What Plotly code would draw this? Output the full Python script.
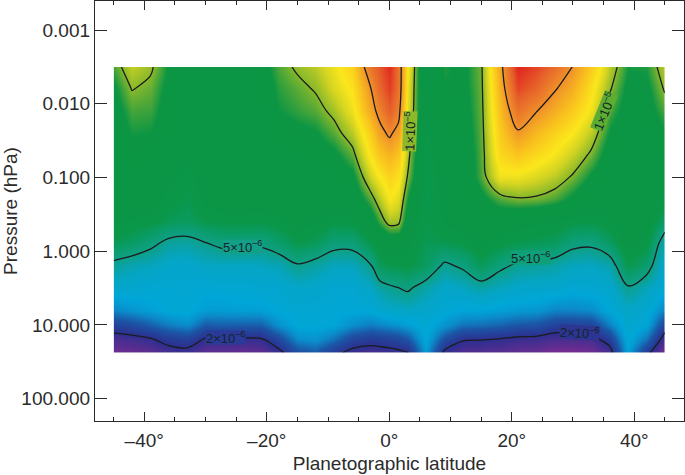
import plotly.graph_objects as go
import numpy as np

latitudes = [-45, -42, -39, -36, -33, -30, -27, -24, -21, -18, -15, -12, -9, -6, -3, -1.5, 0,
             1.5, 3, 6, 9, 12, 15, 18, 21, 24, 27, 30, 33, 36, 39, 42, 45]
pressures = [0.00324, 0.0063, 0.0126, 0.0251, 0.0501, 0.1, 0.2, 0.398, 0.794, 1.585, 3.16, 6.31, 10, 15.85, 24]

# mixing ratio in units of 1e-6, one list per latitude, from the top of the map down
c_m45 = [9.2, 8.4, 8.0, 7.8, 7.6, 7.5, 7.5, 7.0, 6.2, 4.7, 4.0, 3.1, 2.3, 1.8, 1.55]
c_m42 = [11.2, 10.1, 9.2, 8.7, 8.2, 7.7, 7.5, 6.8, 5.9, 4.4, 3.95, 3.3, 2.45, 1.85, 1.6]
c_m39 = [10.3, 9.6, 9.1, 8.6, 8.1, 7.6, 7.4, 6.6, 5.3, 4.25, 3.8, 3.5, 2.7, 1.95, 1.65]
c_m36 = [8.5, 8.2, 8.0, 7.8, 7.4, 7.0, 6.6, 6.2, 4.7, 4.0, 3.8, 3.7, 3.0, 2.2, 1.8]
c_m33 = [7.6, 7.5, 7.5, 7.4, 7.0, 6.6, 6.3, 6.0, 4.6, 4.0, 3.8, 3.75, 3.2, 2.3, 1.85]
c_m30 = [7.6, 7.6, 7.5, 7.5, 7.4, 7.3, 7.1, 6.4, 4.95, 4.15, 3.75, 3.45, 2.65, 1.95, 1.65]
c_m27 = [7.7, 7.6, 7.5, 7.5, 7.5, 7.4, 7.4, 6.55, 5.3, 4.2, 3.8, 3.45, 2.7, 1.95, 1.65]
c_m24 = [7.8, 7.6, 7.5, 7.5, 7.5, 7.5, 7.4, 6.55, 5.3, 4.2, 3.8, 3.5, 2.7, 1.95, 1.6]
c_m21 = [8.0, 7.8, 7.6, 7.5, 7.5, 7.5, 7.4, 6.5, 5.2, 4.2, 3.85, 3.5, 2.7, 1.95, 1.65]
c_m18 = [9.3, 8.9, 8.6, 8.0, 7.6, 7.5, 7.5, 6.7, 5.7, 4.35, 3.9, 3.7, 3.25, 2.4, 1.87]
c_m15 = [10.3, 9.5, 9.0, 8.3, 7.8, 7.5, 7.6, 7.2, 6.4, 4.9, 4.1, 3.8, 3.7, 3.2, 2.45]
c_m12 = [11.0, 10.2, 9.4, 8.5, 7.9, 7.6, 7.5, 7.0, 6.1, 4.6, 4.0, 3.8, 3.7, 3.3, 2.6]
c_m9 = [12.5, 11.8, 10.5, 9.4, 8.3, 7.7, 7.5, 6.6, 5.4, 4.25, 3.85, 3.7, 3.6, 2.9, 2.15]
c_m6 = [14.5, 13.5, 12.5, 11.0, 9.5, 8.3, 7.6, 6.7, 5.4, 4.25, 3.85, 3.7, 3.2, 2.35, 1.85]
c_m3 = [24, 20, 18, 15, 13.5, 11.5, 9.4, 7.8, 6.4, 4.95, 4.15, 3.7, 3.0, 2.2, 1.8]
c_m1h = [28, 26, 22, 18.5, 15.5, 13, 11, 9.2, 7.0, 6.1, 4.6, 3.9, 3.1, 2.25, 1.82]
c_0 = [33, 31, 27, 21, 17, 14.5, 13, 10.7, 7.5, 6.3, 4.85, 4.1, 3.2, 2.3, 1.85]
c_p1h = [24, 24, 22, 18.5, 15.5, 13.5, 12, 10.5, 7.5, 6.4, 5.0, 4.15, 3.3, 2.4, 1.9]
c_p3 = [13, 12.5, 12, 11.2, 10.6, 9.9, 8.6, 7.6, 7.0, 6.5, 5.2, 4.2, 3.45, 2.6, 1.95]
c_p6 = [6.5, 6.6, 6.8, 6.6, 6.4, 6.3, 6.3, 6.4, 6.2, 6.0, 4.55, 4.0, 3.8, 3.7, 3.4]
c_p9 = [8.8, 8.6, 8.3, 8.0, 7.6, 7.3, 7.0, 6.9, 6.3, 4.8, 4.05, 3.75, 3.3, 2.5, 1.9]
c_p12 = [8.3, 8.2, 8.0, 7.8, 7.6, 7.5, 7.4, 7.3, 6.5, 5.2, 4.2, 3.6, 2.9, 2.05, 1.72]
c_p15 = [9.7, 9.6, 9.5, 9.4, 9.3, 9.2, 8.2, 7.5, 7.0, 6.1, 4.6, 3.6, 2.85, 2.02, 1.72]
c_p18 = [18, 17, 16, 15, 14, 12.5, 9.35, 7.5, 6.6, 5.3, 4.25, 3.5, 2.75, 1.98, 1.68]
c_p21 = [34, 30, 24, 19.5, 15.5, 12.5, 9.85, 7.2, 6.3, 4.8, 4.05, 3.4, 2.6, 1.9, 1.62]
c_p24 = [30, 26, 20.3, 16.5, 14, 11.8, 9.75, 7.0, 6.2, 4.7, 4.0, 3.35, 2.55, 1.88, 1.6]
c_p27 = [25, 20.5, 17.5, 14.5, 12.8, 11, 9.25, 6.9, 6.0, 4.55, 4.0, 3.1, 2.3, 1.8, 1.5]
c_p30 = [19.8, 17.5, 15, 13, 11.3, 9.8, 8.3, 6.6, 5.3, 4.25, 3.8, 3.1, 2.3, 1.8, 1.5]
c_p33 = [15, 13.5, 12.5, 11, 9.7, 8.4, 7.4, 6.5, 5.2, 4.2, 3.85, 3.2, 2.35, 1.82, 1.55]
c_p36 = [11, 10.2, 9.3, 8.5, 7.8, 7.5, 7.5, 6.85, 5.9, 4.45, 3.95, 3.7, 3.05, 2.25, 1.8]
c_p39 = [8.7, 8.3, 8.0, 7.7, 7.5, 7.4, 7.4, 7.5, 7.2, 6.35, 4.9, 4.1, 3.95, 3.8, 3.5]
c_p42 = [8.8, 8.3, 8.0, 7.7, 7.5, 7.4, 7.3, 7.3, 6.7, 5.6, 4.3, 3.9, 3.6, 2.9, 2.15]
c_p45 = [11, 10.2, 9.3, 8.5, 7.9, 7.5, 6.8, 5.75, 4.35, 3.9, 3.75, 3.05, 2.3, 1.78, 1.5]

columns = [c_m45, c_m42, c_m39, c_m36, c_m33, c_m30, c_m27, c_m24, c_m21, c_m18, c_m15,
           c_m12, c_m9, c_m6, c_m3, c_m1h, c_0, c_p1h, c_p3, c_p6, c_p9, c_p12, c_p15, c_p18, c_p21,
           c_p24, c_p27, c_p30, c_p33, c_p36, c_p39, c_p42, c_p45]

contour_levels = [2, 5, 10, 20]
x_ticks = [-40, -20, 0, 20, 40]
x_labels = ["–40°", "–20°", "0°", "20°", "40°"]
y_ticks = [0.001, 0.01, 0.1, 1, 10, 100]
y_labels = ["0.001", "0.010", "0.100", "1.000", "10.000", "100.000"]

z = np.log10(np.array(columns)).T.tolist()

stops = [(1.5, "#7a2c90"), (2.0, "#2c2f90"), (2.6, "#1c55a6"), (3.2, "#0a8fcc"), (3.6, "#00a6d8"),
         (4.2, "#05a5c4"), (5.0, "#0fa088"), (5.8, "#0a9c68"), (6.5, "#0a9748"), (7.2, "#0a9645"), (8.6, "#0c9644"),
         (9.3, "#4da738"), (10.0, "#86b82c"), (11.5, "#d3d422"), (13.0, "#fbe71c"), (16.0, "#f9c01e"),
         (20.0, "#f0932a"), (27.0, "#e6602a"), (34.0, "#e1251f")]
lo, hi = np.log10(stops[0][0]), np.log10(stops[-1][0])
colorscale = [[(np.log10(v) - lo) / (hi - lo), c] for v, c in stops]

W, H = 685, 475
L, R, T, B = 94.5, 684, 1, 421.5
X0 = (L - 389) / 6.13
X1 = (R - 389) / 6.13
Y0 = (B - 251.5) / 73.8
Y1 = (T - 251.5) / 73.8
map_x = [(389 + 6.13 * -45 - L) / (R - L), (389 + 6.13 * 45 - L) / (R - L)]
map_y = [(B - 353) / (B - T), (B - 67) / (B - T)]

ink = "#2b2b2b"
tick_font = dict(family="Liberation Sans", size=19, color=ink)
title_font = dict(family="Liberation Sans", size=19, color=ink)

fig = go.Figure()
fig.add_trace(go.Scatter(x=[None], y=[None], mode="markers", hoverinfo="skip"))
fig.add_trace(go.Heatmap(x=latitudes, y=pressures, z=z, colorscale=colorscale, zmin=lo, zmax=hi,
                         zsmooth="best", showscale=False, hoverinfo="skip", xaxis="x2", yaxis="y2"))
for level in contour_levels:
    fig.add_trace(go.Contour(x=latitudes, y=pressures, z=z, showscale=False, hoverinfo="skip",
                             contours=dict(start=np.log10(level), end=np.log10(level), size=1, coloring="none"),
                             line=dict(color="#1c1c1c", width=1.3, smoothing=1.0), xaxis="x2", yaxis="y2"))

fig.update_layout(
    width=W, height=H, autosize=False, paper_bgcolor="white", plot_bgcolor="white",
    margin=dict(l=L, r=W - R, t=T, b=H - B), showlegend=False,
    font=dict(family="Liberation Sans", color=ink),
    xaxis=dict(range=[X0, X1], tickvals=x_ticks, ticktext=x_labels, ticks="inside", ticklen=9, tickwidth=1.2,
               tickcolor=ink, showline=True, mirror="ticks", linecolor=ink, linewidth=1.3,
               showgrid=False, zeroline=False, tickfont=tick_font, ticklabelstandoff=2,
               minor=dict(dtick=5, tick0=0, ticks="inside", ticklen=4, tickwidth=1.2, tickcolor=ink),
               title=dict(text="Planetographic latitude", font=title_font, standoff=6)),
    yaxis=dict(type="log", range=[Y0, Y1], tickvals=y_ticks, ticktext=y_labels, ticks="inside", ticklen=12,
               tickwidth=1.2, tickcolor=ink, showline=True, mirror="ticks", linecolor=ink, linewidth=1.3,
               showgrid=False, zeroline=False, tickfont=tick_font,
               title=dict(text="Pressure (hPa)\u00a0\u00a0", font=title_font, standoff=3)),
    xaxis2=dict(domain=map_x, range=[-45, 45], visible=False, anchor="y2"),
    yaxis2=dict(domain=map_y, type="log", range=[np.log10(24), np.log10(0.00324)], visible=False, anchor="x2"),
)

labels = [
    ("5×10<sup>–6</sup>", -24.0, 0.88, 0, "#139f88"),
    ("5×10<sup>–6</sup>", 23.0, 1.24, 0, "#10a078"),
    ("2×10<sup>–6</sup>", -26.8, 14.8, 0, "#2a3a98"),
    ("2×10<sup>–6</sup>", 31.0, 13.0, 3, "#2c3592"),
    ("1×10<sup>–5</sup>", 3.4, 0.0245, -88, "#8db82c"),
    ("1×10<sup>–5</sup>", 35.1, 0.0131, -68, "#5dad32"),
]
for text, lat, p, angle, bg in labels:
    fig.add_annotation(text=text, x=lat, y=np.log10(p), xref="x2", yref="y2", showarrow=False, textangle=angle,
                       bgcolor=bg, borderpad=0, height=13,
                       font=dict(family="Liberation Sans", size=13, color="#14242a"))

fig.write_html("out.html", config=dict(displayModeBar=False), post_script="document.body.style.margin='0';")
